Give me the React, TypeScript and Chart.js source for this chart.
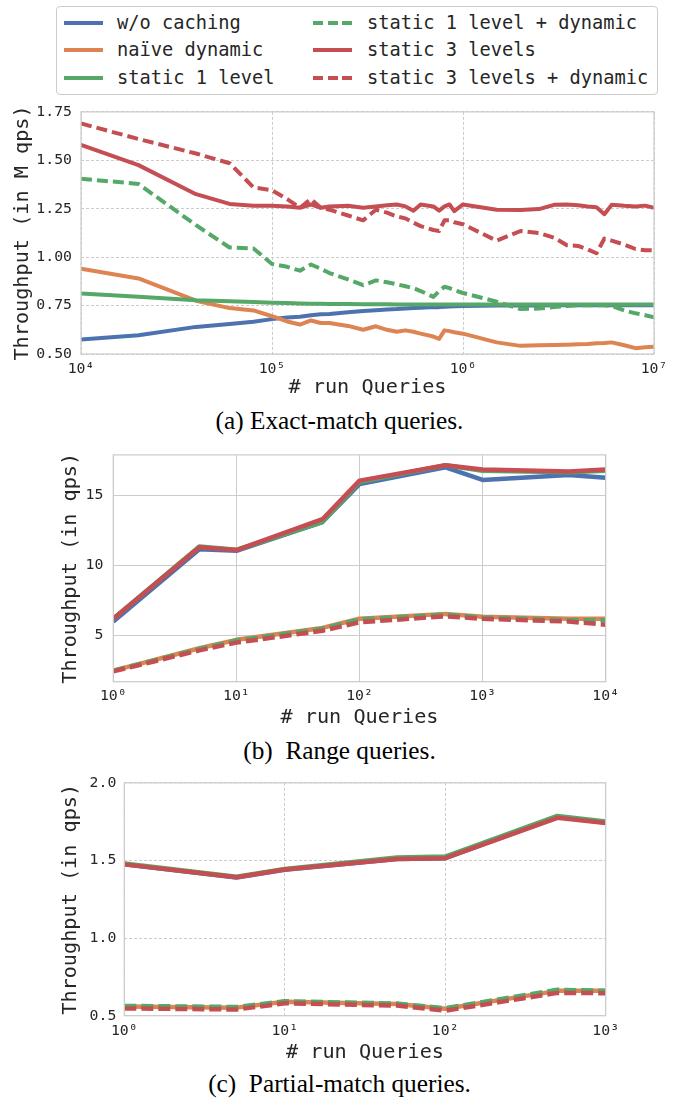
import React, { useEffect, useRef } from "react";
import { Chart, registerables } from "chart.js";

Chart.register(...registerables);

const MONO = "'DejaVu Sans Mono', monospace";
const SERIF = "'Liberation Serif', 'Times New Roman', serif";
const TEXT = "#262626";
const GRID = "#cccccc";
const FRAME = "#cccccc";

const seriesNames = [
  "w/o caching",
  "naïve dynamic",
  "static 1 level",
  "static 1 level + dynamic",
  "static 3 levels",
  "static 3 levels + dynamic",
];
const seriesColors = ["#4C72B0", "#DD8452", "#55A868", "#55A868", "#C44E52", "#C44E52"];
const seriesDashed = [false, false, false, true, false, true];

// (a) Exact-match queries (throughput in M qps)
const exactQueries = [
  1e4, 2e4, 4e4, 6e4, 8e4, 1e5, 1.2e5, 1.4e5, 1.6e5, 1.8e5, 2e5, 2.5e5, 3e5, 3.5e5, 4e5, 4.5e5,
  5e5, 5.5e5, 6e5, 7e5, 7.5e5, 8e5, 8.5e5, 9e5, 1e6, 1.5e6, 2e6, 2.5e6, 3e6, 3.5e6, 4e6, 4.5e6,
  5e6, 5.5e6, 6e6, 7e6, 8e6, 9e6, 1e7,
];
const exactWoCaching = [
  0.575, 0.597, 0.64, 0.655, 0.667, 0.68, 0.688, 0.692, 0.7, 0.705, 0.706, 0.715, 0.722, 0.726,
  0.73, 0.732, 0.735, 0.737, 0.739, 0.742, 0.742, 0.744, 0.745, 0.746, 0.748, 0.75, 0.751, 0.751,
  0.752, 0.752, 0.752, 0.752, 0.752, 0.752, 0.752, 0.752, 0.752, 0.752, 0.752,
];
const exactNaive = [
  0.94, 0.89, 0.775, 0.737, 0.725, 0.695, 0.668, 0.652, 0.673, 0.66, 0.66, 0.645, 0.625, 0.643,
  0.625, 0.615, 0.622, 0.615, 0.605, 0.59, 0.578, 0.622, 0.618, 0.612, 0.605, 0.56, 0.542, 0.545,
  0.547, 0.548, 0.55, 0.552, 0.555, 0.557, 0.56, 0.545, 0.53, 0.535, 0.538,
];
const exactStatic1 = [
  0.813, 0.795, 0.778, 0.772, 0.768, 0.765, 0.763, 0.761, 0.76, 0.759, 0.758, 0.758, 0.757, 0.757,
  0.757, 0.756, 0.756, 0.756, 0.756, 0.756, 0.756, 0.756, 0.756, 0.756, 0.756, 0.756, 0.756, 0.756,
  0.756, 0.756, 0.756, 0.756, 0.756, 0.756, 0.756, 0.756, 0.756, 0.756, 0.756,
];
const exactStatic1Dyn = [
  1.405, 1.378, 1.165, 1.05, 1.045, 0.965, 0.95, 0.93, 0.962, 0.94, 0.918, 0.885, 0.855, 0.88,
  0.87, 0.86, 0.85, 0.84, 0.825, 0.795, 0.825, 0.847, 0.84, 0.83, 0.815, 0.77, 0.732, 0.735,
  0.742, 0.748, 0.752, 0.752, 0.752, 0.752, 0.748, 0.725, 0.71, 0.7, 0.69,
];
const exactStatic3 = [
  1.58, 1.475, 1.325, 1.275, 1.265, 1.265, 1.262, 1.255, 1.272, 1.255, 1.262, 1.265, 1.255, 1.262,
  1.268, 1.272, 1.262, 1.24, 1.272, 1.262, 1.24, 1.262, 1.272, 1.238, 1.272, 1.245, 1.244, 1.248,
  1.27, 1.272, 1.268, 1.262, 1.258, 1.222, 1.27, 1.265, 1.262, 1.266, 1.255,
];
const exactStatic3Dyn = [
  1.69, 1.61, 1.535, 1.485, 1.36, 1.345, 1.3, 1.255, 1.3, 1.255, 1.245, 1.215, 1.19, 1.245, 1.23,
  1.21, 1.2, 1.178, 1.16, 1.14, 1.135, 1.19, 1.19, 1.18, 1.17, 1.085, 1.135, 1.125, 1.1, 1.062,
  1.058, 1.04, 1.02, 1.096, 1.085, 1.065, 1.042, 1.036, 1.035,
];
const exactXTicks = [1e4, 1e5, 1e6, 1e7];
const exactYTicks = [0.5, 0.75, 1.0, 1.25, 1.5, 1.75];

// (b) Range queries (throughput in qps)
const rangeQueries = [1, 5, 10, 50, 100, 500, 1000, 5000, 10000];
const rangeWoCaching = [6.0, 11.15, 11.05, 13.1, 15.8, 17.0, 16.1, 16.45, 16.25];
const rangeNaive = [2.5, 4.1, 4.7, 5.55, 6.2, 6.55, 6.35, 6.2, 6.2];
const rangeStatic1 = [6.2, 11.35, 11.12, 13.1, 15.95, 17.15, 16.75, 16.65, 16.75];
const rangeStatic1Dyn = [2.5, 4.05, 4.65, 5.5, 6.15, 6.5, 6.3, 6.1, 6.1];
const rangeStatic3 = [6.2, 11.3, 11.1, 13.3, 16.05, 17.15, 16.85, 16.7, 16.85];
const rangeStatic3Dyn = [2.45, 3.95, 4.5, 5.35, 5.95, 6.38, 6.2, 6.0, 5.78];
const rangeXTicks = [1, 10, 100, 1000, 10000];
const rangeYTicks = [5, 10, 15];

// (c) Partial-match queries (throughput in qps)
const partialQueries = [1, 5, 10, 50, 100, 500, 1000];
const partialWoCaching = [1.475, 1.39, 1.44, 1.51, 1.515, 1.78, 1.745];
const partialNaive = [0.56, 0.552, 0.59, 0.575, 0.545, 0.66, 0.66];
const partialStatic1 = [1.48, 1.395, 1.445, 1.52, 1.525, 1.787, 1.752];
const partialStatic1Dyn = [0.563, 0.556, 0.593, 0.578, 0.548, 0.667, 0.66];
const partialStatic3 = [1.475, 1.392, 1.442, 1.51, 1.515, 1.775, 1.742];
const partialStatic3Dyn = [0.547, 0.54, 0.58, 0.565, 0.532, 0.647, 0.645];
const partialXTicks = [1, 10, 100, 1000];
const partialYTicks = [0.5, 1.0, 1.5, 2.0];

const SUP = "⁰¹²³⁴⁵⁶⁷⁸⁹";
const powLabel = (v: number) =>
  "10" +
  String(Math.round(Math.log10(v)))
    .split("")
    .map((d) => SUP[+d])
    .join("");

const framePlugin = {
  id: "frame",
  afterDatasetsDraw(chart: any) {
    const { ctx, chartArea: a } = chart;
    ctx.save();
    ctx.strokeStyle = FRAME;
    ctx.lineWidth = 1.25;
    ctx.setLineDash([]);
    ctx.strokeRect(a.left, a.top, a.right - a.left, a.bottom - a.top);
    ctx.restore();
  },
};

type PanelSpec = {
  top: number;
  height: number;
  padTop: number;
  padRight: number;
  yWidth: number;
  xHeight: number;
  x: number[];
  series: number[][];
  xMin: number;
  xMax: number;
  xTicks: number[];
  yMin: number;
  yMax: number;
  yTicks: number[];
  yDigits: number;
  yTitle: string;
  yTitlePad: number;
  yTickPad: number;
  xTitlePad: number;
  xTickPad: number;
  gridDash: number[];
  lineWidth: number;
  dash: number[];
};

const TICK_FONT = 14.8;
const TITLE_FONT = 20.2;

function Panel({ spec }: { spec: PanelSpec }) {
  const ref = useRef<HTMLCanvasElement>(null);
  useEffect(() => {
    const s = spec;
    const chart = new Chart(ref.current as HTMLCanvasElement, {
      type: "line",
      data: {
        datasets: s.series.map((ys, i) => ({
          label: seriesNames[i],
          data: s.x.map((x, j) => ({ x, y: ys[j] })),
          borderColor: seriesColors[i],
          backgroundColor: seriesColors[i],
          borderWidth: s.lineWidth,
          borderDash: seriesDashed[i] ? s.dash : [],
          borderCapStyle: "butt",
          borderJoinStyle: "round",
          pointRadius: 0,
          pointHoverRadius: 0,
          tension: 0,
          fill: false,
          order: 5 - i,
        })),
      } as any,
      options: {
        responsive: false,
        animation: false,
        events: [],
        layout: { padding: { left: 0, top: s.padTop, right: s.padRight, bottom: 0 } },
        plugins: { legend: { display: false }, tooltip: { enabled: false } },
        scales: {
          x: {
            type: "logarithmic",
            min: s.xMin,
            max: s.xMax,
            afterBuildTicks: (sc: any) => {
              sc.ticks = s.xTicks.map((v) => ({ value: v }));
            },
            afterFit: (sc: any) => {
              sc.height = s.xHeight;
            },
            ticks: {
              callback: (v: any) => powLabel(Number(v)),
              font: { family: MONO, size: TICK_FONT },
              color: TEXT,
              padding: s.xTickPad,
              maxRotation: 0,
              autoSkip: false,
            },
            grid: { color: GRID, lineWidth: 1, drawTicks: false },
            border: { display: false, dash: s.gridDash },
            title: {
              display: true,
              text: "# run Queries",
              font: { family: MONO, size: TITLE_FONT },
              color: TEXT,
              padding: { top: 0, bottom: s.xTitlePad },
            },
          },
          y: {
            type: "linear",
            min: s.yMin,
            max: s.yMax,
            afterBuildTicks: (sc: any) => {
              sc.ticks = s.yTicks.map((v) => ({ value: v }));
            },
            afterFit: (sc: any) => {
              sc.width = s.yWidth;
            },
            ticks: {
              callback: (v: any) => Number(v).toFixed(s.yDigits),
              font: { family: MONO, size: TICK_FONT },
              color: TEXT,
              padding: s.yTickPad,
              autoSkip: false,
            },
            grid: { color: GRID, lineWidth: 1, drawTicks: false },
            border: { display: false, dash: s.gridDash },
            title: {
              display: true,
              text: s.yTitle,
              font: { family: MONO, size: TITLE_FONT },
              color: TEXT,
              padding: { top: s.yTitlePad, bottom: 0 },
            },
          },
        },
      } as any,
      plugins: [framePlugin],
    });
    return () => chart.destroy();
  }, [spec]);
  return (
    <canvas
      ref={ref}
      width={679}
      height={spec.height}
      style={{ position: "absolute", left: 0, top: spec.top, width: 679, height: spec.height }}
    />
  );
}

const exactSpec: PanelSpec = {
  top: 94,
  height: 311,
  padTop: 14,
  padRight: 25,
  yWidth: 81,
  xHeight: 51,
  x: exactQueries,
  series: [exactWoCaching, exactNaive, exactStatic1, exactStatic1Dyn, exactStatic3, exactStatic3Dyn],
  xMin: 1e4,
  xMax: 1e7,
  xTicks: exactXTicks,
  yMin: 0.5,
  yMax: 1.75,
  yTicks: exactYTicks,
  yDigits: 2,
  yTitle: "Throughput (in M qps)",
  yTitlePad: 10.5,
  yTickPad: 9,
  xTitlePad: 5,
  xTickPad: 6,
  gridDash: [3, 2],
  lineWidth: 4,
  dash: [11, 5],
};

const rangeSpec: PanelSpec = {
  top: 436,
  height: 296,
  padTop: 16.3,
  padRight: 73.3,
  yWidth: 113.3,
  xHeight: 50.3,
  x: rangeQueries,
  series: [rangeWoCaching, rangeNaive, rangeStatic1, rangeStatic1Dyn, rangeStatic3, rangeStatic3Dyn],
  xMin: 1,
  xMax: 10000,
  xTicks: rangeXTicks,
  yMin: 1.715,
  yMax: 17.885,
  yTicks: rangeYTicks,
  yDigits: 0,
  yTitle: "Throughput (in qps)",
  yTitlePad: 58.6,
  yTickPad: 10,
  xTitlePad: 2,
  xTickPad: 6,
  gridDash: [],
  lineWidth: 4.5,
  dash: [12, 5],
};

const partialSpec: PanelSpec = {
  top: 766,
  height: 299,
  padTop: 15.7,
  padRight: 73.3,
  yWidth: 124.3,
  xHeight: 49.3,
  x: partialQueries,
  series: [
    partialWoCaching,
    partialNaive,
    partialStatic1,
    partialStatic1Dyn,
    partialStatic3,
    partialStatic3Dyn,
  ],
  xMin: 1,
  xMax: 1000,
  xTicks: partialXTicks,
  yMin: 0.5,
  yMax: 2.0,
  yTicks: partialYTicks,
  yDigits: 1,
  yTitle: "Throughput (in qps)",
  yTitlePad: 58.6,
  yTickPad: 8,
  xTitlePad: 0,
  xTickPad: 7,
  gridDash: [3, 2],
  lineWidth: 4.5,
  dash: [12, 5],
};

const legendCols = [
  [0, 1, 2],
  [3, 4, 5],
];
const legendRowY = [22.5, 50, 77.5];
const legendSampleX = [64, 313];
const legendTextX = [117, 367];

function Legend() {
  const items: React.ReactNode[] = [];
  legendCols.forEach((col, c) =>
    col.forEach((idx, r) => {
      const color = seriesColors[idx];
      const cy = legendRowY[r];
      items.push(
        <div
          key={"s" + idx}
          style={{
            position: "absolute",
            left: legendSampleX[c],
            top: cy - 2,
            width: 39,
            height: 4,
            background: seriesDashed[idx]
              ? `repeating-linear-gradient(to right, ${color} 0px, ${color} 10px, transparent 10px, transparent 14.5px)`
              : color,
          }}
        />
      );
      items.push(
        <div
          key={"t" + idx}
          style={{
            position: "absolute",
            left: legendTextX[c],
            top: cy - 14,
            height: 28,
            lineHeight: "28px",
            fontFamily: MONO,
            fontSize: 18.7,
            color: TEXT,
            whiteSpace: "pre",
          }}
        >
          {seriesNames[idx]}
        </div>
      );
    })
  );
  return (
    <div>
      <div
        style={{
          position: "absolute",
          left: 56,
          top: 6,
          width: 600,
          height: 87,
          border: "1px solid #cccccc",
          borderRadius: 4,
          background: "#ffffff",
        }}
      />
      {items}
    </div>
  );
}

const captions = [
  { text: "(a) Exact-match queries.", cy: 420 },
  { text: "(b)  Range queries.", cy: 750 },
  { text: "(c)  Partial-match queries.", cy: 1083 },
];

export default function App() {
  return (
    <div
      style={{
        position: "absolute",
        left: 0,
        top: 0,
        width: 679,
        height: 1100,
        background: "#ffffff",
        overflow: "hidden",
      }}
    >
      <Panel spec={exactSpec} />
      <Panel spec={rangeSpec} />
      <Panel spec={partialSpec} />
      <Legend />
      {captions.map((c) => (
        <div
          key={c.text}
          style={{
            position: "absolute",
            left: 0,
            width: 679,
            top: c.cy - 15,
            height: 30,
            lineHeight: "30px",
            textAlign: "center",
            fontFamily: SERIF,
            fontSize: 25.3,
            color: "#000000",
            whiteSpace: "pre",
          }}
        >
          {c.text}
        </div>
      ))}
    </div>
  );
}
